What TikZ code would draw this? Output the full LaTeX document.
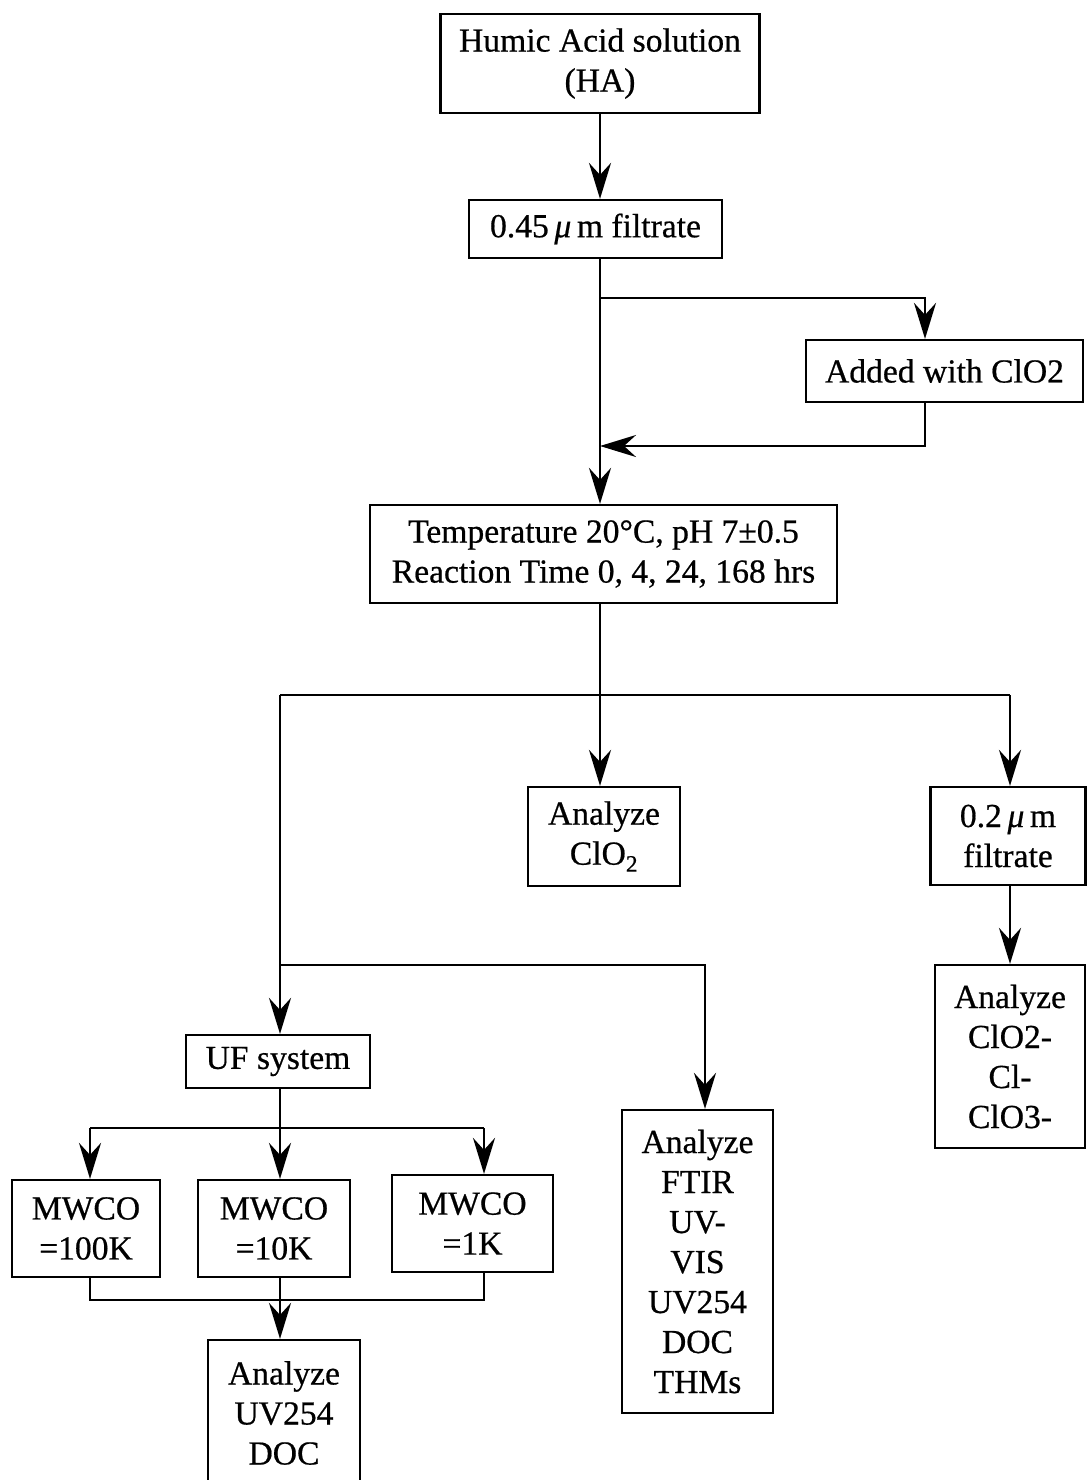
\documentclass[tikz,border=0pt]{standalone}
\usepackage{fontspec}
\setmainfont{Liberation Serif}[FakeBold=0.6]
\usetikzlibrary{arrows.meta}
\begin{document}
\begin{tikzpicture}[x=1pt,y=-1pt,
  every node/.style={font=\fontsize{33.6}{40}\selectfont},
  box/.style={draw, line width=2.2pt, inner sep=0pt, align=center},
  conn/.style={line width=2.8pt, line join=miter},
  arr/.style={conn, -{Stealth[length=36pt,width=22pt,inset=12pt]}}]
\useasboundingbox (0,0) rectangle (1087,1480);
% nodes
\node[box, minimum width=319pt, minimum height=99pt] (ha) at (600,63.5) {Humic Acid solution\\(HA)};
\node[box, minimum width=253pt, minimum height=58pt] (f045) at (595.5,229) {0.45\,\textit{μ}\,m filtrate};
\node[box, minimum width=277pt, minimum height=62pt] (added) at (944.5,371) {Added with ClO2};
\node[box, minimum width=467pt, minimum height=98pt] (cond) at (603.5,554) {Temperature 20°C, pH 7±0.5\\Reaction Time 0, 4, 24, 168 hrs};
\node[box, minimum width=152pt, minimum height=99pt] (aclo2) at (604,836.5) {Analyze\\ClO\textsubscript{2}};
\node[box, minimum width=155pt, minimum height=98pt] (f02) at (1008,836) {0.2\,\textit{μ}\,m\\filtrate};
\node[box, minimum width=150pt, minimum height=183pt] (aions) at (1010,1056.5) {Analyze\\ClO2-\\Cl-\\ClO3-};
\node[box, minimum width=184pt, minimum height=53pt] (uf) at (278,1061.5) {UF system};
\node[box, minimum width=151pt, minimum height=303pt] (ftir) at (697.5,1261.5) {Analyze\\FTIR\\UV-\\VIS\\UV254\\DOC\\THMs};
\node[box, minimum width=148pt, minimum height=97pt] (m100) at (86,1228.5) {MWCO\\=100K};
\node[box, minimum width=152pt, minimum height=97pt] (m10) at (274,1228.5) {MWCO\\=10K};
\node[box, minimum width=161pt, minimum height=97pt] (m1) at (472.5,1223.5) {MWCO\\=1K};
\node[box, minimum width=152pt, minimum height=146pt] (auv) at (284,1413) {Analyze\\UV254\\DOC};
% junction coordinates
\coordinate (sp) at (600,298);
\coordinate (b1r) at (925,298);
\coordinate (b2r) at (925,446);
\coordinate (b2) at (600,446);
\coordinate (h2l) at (280,695);
\coordinate (h2r) at (1010,695);
\coordinate (h3l) at (280,965);
\coordinate (h3r) at (705,965);
\coordinate (h4l) at (90,1128);
\coordinate (h4m) at (280,1128);
\coordinate (h4r) at (484,1128);
\coordinate (h5l) at (90,1300);
\coordinate (h5m) at (280,1300);
\coordinate (h5r) at (484,1300);
% connectors
\draw[arr] (ha.south -| sp) -- (f045.north -| sp);
\draw[arr] (f045.south -| sp) -- (cond.north -| sp);
\draw[arr] (sp) -- (b1r) -- (b1r |- added.north);
\draw[arr] (added.south -| b2r) -- (b2r) -- (b2);
\draw[arr] (cond.south -| sp) -- (aclo2.north -| sp);
\draw[conn] (h2l) -- (h2r);
\draw[arr] (h2r) -- (h2r |- f02.north);
\draw[arr] (h2l) -- (h2l |- uf.north);
\draw[arr] (f02.south -| h2r) -- (aions.north -| h2r);
\draw[arr] (h3l) -- (h3r) -- (h3r |- ftir.north);
\draw[arr] (uf.south -| h4m) -- (m10.north -| h4m);
\draw[conn] (h4l) -- (h4r);
\draw[arr] (h4l) -- (h4l |- m100.north);
\draw[arr] (h4r) -- (h4r |- m1.north);
\draw[conn] (m100.south -| h5l) -- (h5l) -- (h5r) -- (m1.south -| h5r);
\draw[arr] (m10.south -| h5m) -- (auv.north -| h5m);
\end{tikzpicture}
\end{document}
